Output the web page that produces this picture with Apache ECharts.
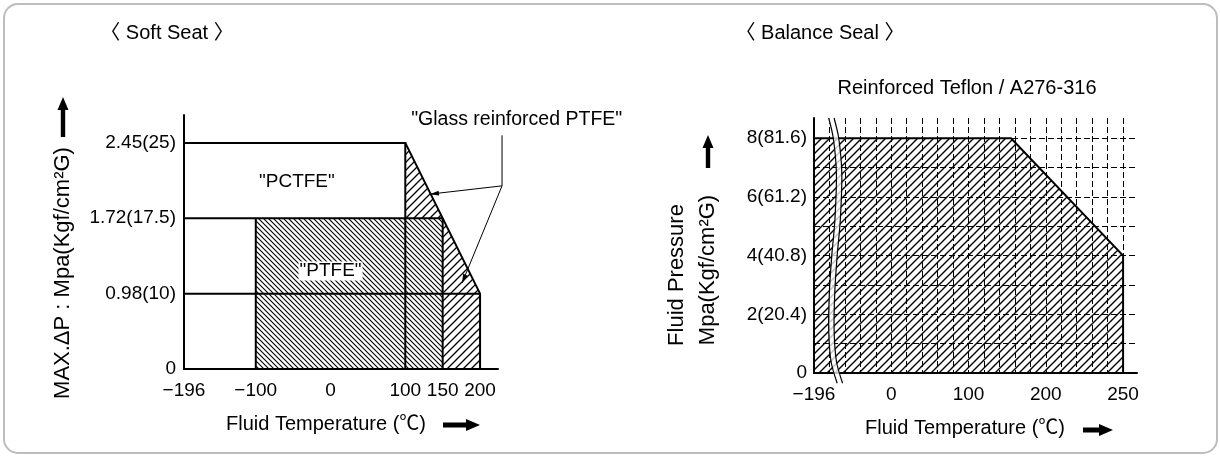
<!DOCTYPE html>
<html><head><meta charset="utf-8">
<script src="https://cdn.jsdelivr.net/npm/echarts@6/dist/echarts.min.js"></script>
<style>html,body{margin:0;padding:0;background:#fff}#c{width:1220px;height:456px}</style>
</head><body><div id="c"></div>
<script>
// ---------------- Soft Seat (left) ----------------
// pressure levels are drawn equally spaced (index 0..3)
const softPressureLabels = ['0', '0.98(10)', '1.72(17.5)', '2.45(25)'];
const softPressureIdx = [0, 1, 2, 3];
const softTempTicks = [-196, -100, 0, 100, 150, 200];
// regions: [temperature °C, pressure level index]
const softPTFE = [[-100, 0], [-100, 2], [150, 2], [150, 0]];
const softGlassTop = [[100, 2], [100, 3], [150, 2]];
const softGlassBottom = [[150, 0], [150, 2], [200, 1], [200, 0]];
const softLimitLines = [
  [[-196, 3], [100, 3], [100, 0]],
  [[-196, 2], [150, 2]],
  [[-196, 1], [200, 1]],
  [[-100, 0], [-100, 2]],
  [[150, 0], [150, 2]],
  [[100, 3], [200, 1], [200, 0]]
];
const softNames = ['"PCTFE"', '"PTFE"', '"Glass reinforced PTFE"'];
const softNamePos = [[-45, 2.48], [0, 1.3], [249, 3.31]];
const softLeaderTop = [229.4, 3.10];
const softLeaderKnee = [229.4, 2.43];
const softLeaderEnds = [[133, 2.32], [175.9, 1.14]];

// ---------------- Balance Seal (right) ----------------
const balPressureTicks = [0, 2, 4, 6, 8];
const balPressureLabels = ['0', '2(20.4)', '4(40.8)', '6(61.2)', '8(81.6)'];
const balTempTicks = [-196, 0, 100, 200, 250];
const balTempPos = [0, 5, 10, 15, 20];   // gridline index where each label sits (axis drawn not to scale)
const balEnvelope = [[-196, 0], [-196, 8], [155, 8], [250, 4], [250, 0]];   // [°C, MPa]
const balBreakL = [[0.95, 8.69], [1.25, 8.0], [1.45, 6.8], [1.35, 5.2], [1.15, 4.0], [1.0, 2.8], [0.95, 1.5], [1.1, 0.4], [1.5, -0.35]];
const BREAK_W = 0.35;

const FONT = '"Liberation Sans", "Noto Sans CJK KR", sans-serif';

function tempToPos(t) {
  for (let i = 0; i < balTempTicks.length - 1; i++) {
    if (t <= balTempTicks[i + 1] || i === balTempTicks.length - 2) {
      const a = balTempTicks[i], b = balTempTicks[i + 1];
      return balTempPos[i] + (t - a) / (b - a) * (balTempPos[i + 1] - balTempPos[i]);
    }
  }
}
function fmtNum(v) { return String(v).replace('-', '\u2212'); }

function hatch(s, dir, lw) {
  const c = document.createElement('canvas');
  c.width = s; c.height = s;
  const g = c.getContext('2d');
  g.strokeStyle = '#000'; g.lineWidth = lw; g.beginPath();
  if (dir === 'fwd') {
    g.moveTo(-1, s + 1); g.lineTo(s + 1, -1);
    g.moveTo(-1, 1); g.lineTo(1, -1);
    g.moveTo(s - 1, s + 1); g.lineTo(s + 1, s - 1);
  } else {
    g.moveTo(-1, -1); g.lineTo(s + 1, s + 1);
    g.moveTo(s - 1, -1); g.lineTo(s + 1, 1);
    g.moveTo(-1, s - 1); g.lineTo(1, s + 1);
  }
  g.stroke();
  return { image: c, repeat: 'repeat' };
}
const patBack = hatch(5, 'back', 1.1);
const patFwd = hatch(8, 'fwd', 1.3);
const patFwdR = hatch(8, 'fwd', 1.4);

function arrowHead(p, q, len, w) {
  const dx = q[0] - p[0], dy = q[1] - p[1], L = Math.hypot(dx, dy);
  const ux = dx / L, uy = dy / L;
  const bx = q[0] - ux * len, by = q[1] - uy * len;
  return [[q[0], q[1]], [bx - uy * w, by + ux * w], [bx + uy * w, by - ux * w]];
}

const chart = echarts.init(document.getElementById('c'));

const axisCommon = {
  axisLine: { show: true, onZero: false, lineStyle: { color: '#000', width: 2 } },
  axisTick: { show: false },
};
const labelStyle = { color: '#000', fontSize: 19, fontFamily: FONT };

function softRender(params, api) {
  const c = p => api.coord(p);
  const kids = [];
  [[softPTFE, patBack], [softGlassTop, patFwd], [softGlassBottom, patFwd]].forEach(([pts, pat]) => {
    kids.push({ type: 'polygon', shape: { points: pts.map(c) }, style: { fill: pat, stroke: null } });
  });
  softLimitLines.forEach(l => kids.push({ type: 'polyline', shape: { points: l.map(c) }, style: { stroke: '#000', lineWidth: 2, fill: null, lineJoin: 'miter' } }));
  const top = c(softLeaderTop), knee = c(softLeaderKnee);
  kids.push({ type: 'polyline', shape: { points: [top, knee] }, style: { stroke: '#000', lineWidth: 1, fill: null } });
  softLeaderEnds.forEach(e => {
    const q = c(e);
    kids.push({ type: 'polyline', shape: { points: [knee, q] }, style: { stroke: '#000', lineWidth: 1, fill: null } });
    kids.push({ type: 'polygon', shape: { points: arrowHead(knee, q, 9, 2.5) }, style: { fill: '#000' } });
  });
  softNames.forEach((t, i) => {
    const p = c(softNamePos[i]);
    kids.push({ type: 'text', x: p[0], y: p[1], style: {
      text: t, font: (i === 2 ? '19.5px ' : '19px ') + FONT, fill: '#000', align: 'center', verticalAlign: 'middle',
      backgroundColor: i === 1 ? '#fff' : null, padding: i === 1 ? [0, 1] : 0 } });
  });
  return { type: 'group', children: kids };
}

function balRender(params, api) {
  const c = p => api.coord(p);
  const kids = [];
  const env = balEnvelope.map(p => c([tempToPos(p[0]), p[1]]));
  kids.push({ type: 'polygon', shape: { points: env }, style: { fill: patFwdR, stroke: '#000', lineWidth: 2, lineJoin: 'miter' } });
  const L = balBreakL.map(c);
  const R = balBreakL.map(p => c([p[0] + BREAK_W, p[1]]));
  kids.push({ type: 'polygon', shape: { points: L.concat(R.slice().reverse()), smooth: 0.3 }, style: { fill: 'rgba(255,255,255,0.75)', stroke: null } });
  kids.push({ type: 'polyline', shape: { points: L, smooth: 0.3 }, style: { stroke: '#000', lineWidth: 1.2, fill: null } });
  kids.push({ type: 'polyline', shape: { points: R, smooth: 0.3 }, style: { stroke: '#000', lineWidth: 1.2, fill: null } });
  return { type: 'group', children: kids };
}

function upArrow(x, tip, bottom) {
  return { type: 'polygon', shape: { points: [[x, tip], [x + 5.5, tip + 13], [x + 2.2, tip + 13], [x + 2.2, bottom], [x - 2.2, bottom], [x - 2.2, tip + 13], [x - 5.5, tip + 13]] }, style: { fill: '#000' } };
}
function rightArrow(x0, tip, y) {
  return { type: 'polygon', shape: { points: [[tip, y], [tip - 14, y - 6], [tip - 14, y - 2.5], [x0, y - 2.5], [x0, y + 2.5], [tip - 14, y + 2.5], [tip - 14, y + 6]] }, style: { fill: '#000' } };
}
function txt(x, y, text, size, extra) {
  return Object.assign({ type: 'text', x: x, y: y, style: { text: text, font: size + 'px ' + FONT, fill: '#000', align: 'center', verticalAlign: 'middle' } }, extra || {});
}

chart.setOption({
  animation: false,
  backgroundColor: '#fff',
  grid: [
    { left: 184, top: 115, width: 314, height: 254 },
    { left: 814, top: 118, width: 323, height: 255 }
  ],
  xAxis: [
    Object.assign({ gridIndex: 0, type: 'value', min: -196, max: 224, splitLine: { show: false },
      axisLabel: Object.assign({ customValues: softTempTicks, formatter: v => fmtNum(v), margin: 12 }, labelStyle) }, axisCommon),
    Object.assign({ gridIndex: 1, type: 'value', min: 0, max: 20.9, interval: 1,
      splitLine: { show: true, showMinLine: false, showMaxLine: false, lineStyle: { color: '#000', width: 1, type: [6, 3] } },
      axisLabel: Object.assign({ customValues: balTempPos, formatter: v => fmtNum(balTempTicks[balTempPos.indexOf(Math.round(v))]), margin: 12 }, labelStyle) }, axisCommon)
  ],
  yAxis: [
    Object.assign({ gridIndex: 0, type: 'value', min: 0, max: 3.37, splitLine: { show: false },
      axisLabel: Object.assign({ customValues: softPressureIdx, formatter: v => softPressureLabels[Math.round(v)], margin: 8 }, labelStyle) }, axisCommon),
    Object.assign({ gridIndex: 1, type: 'value', min: 0, max: 8.69, interval: 1,
      splitLine: { show: true, showMinLine: false, showMaxLine: false, lineStyle: { color: '#000', width: 1, type: [6, 3] } },
      axisLabel: Object.assign({ customValues: balPressureTicks, formatter: v => balPressureLabels[balPressureTicks.indexOf(Math.round(v))], margin: 7 }, labelStyle) }, axisCommon)
  ],
  series: [
    { type: 'custom', coordinateSystem: 'cartesian2d', xAxisIndex: 0, yAxisIndex: 0, data: [[0, 0]], renderItem: softRender, silent: true, clip: false },
    { type: 'custom', coordinateSystem: 'cartesian2d', xAxisIndex: 1, yAxisIndex: 1, data: [[0, 0]], renderItem: balRender, silent: true, clip: false }
  ],
  graphic: [
    { type: 'rect', shape: { x: 4, y: 4, width: 1213, height: 449, r: 14 }, style: { fill: null, stroke: '#bdbdbd', lineWidth: 2 }, z: -1 },
    txt(167, 33, '\u3008 Soft Seat \u3009', 20),
    txt(820, 33, '\u3008 Balance Seal \u3009', 20),
    txt(967, 88, 'Reinforced Teflon / A276-316', 20),
    txt(63, 273, 'MAX.\u0394P : Mpa(Kgf/cm\u00b2G)', 22, { rotation: Math.PI / 2 }),
    txt(677, 275, 'Fluid Pressure', 22, { rotation: Math.PI / 2 }),
    txt(708, 270, 'Mpa(Kgf/cm\u00b2G)', 22, { rotation: Math.PI / 2 }),
    txt(326, 424, 'Fluid Temperature (\u2103)', 20),
    txt(965, 428, 'Fluid Temperature (\u2103)', 20),
    upArrow(63, 97, 137),
    upArrow(708, 135, 168),
    rightArrow(443, 480, 425),
    rightArrow(1083, 1113, 430)
  ]
});
</script>
</body></html>
